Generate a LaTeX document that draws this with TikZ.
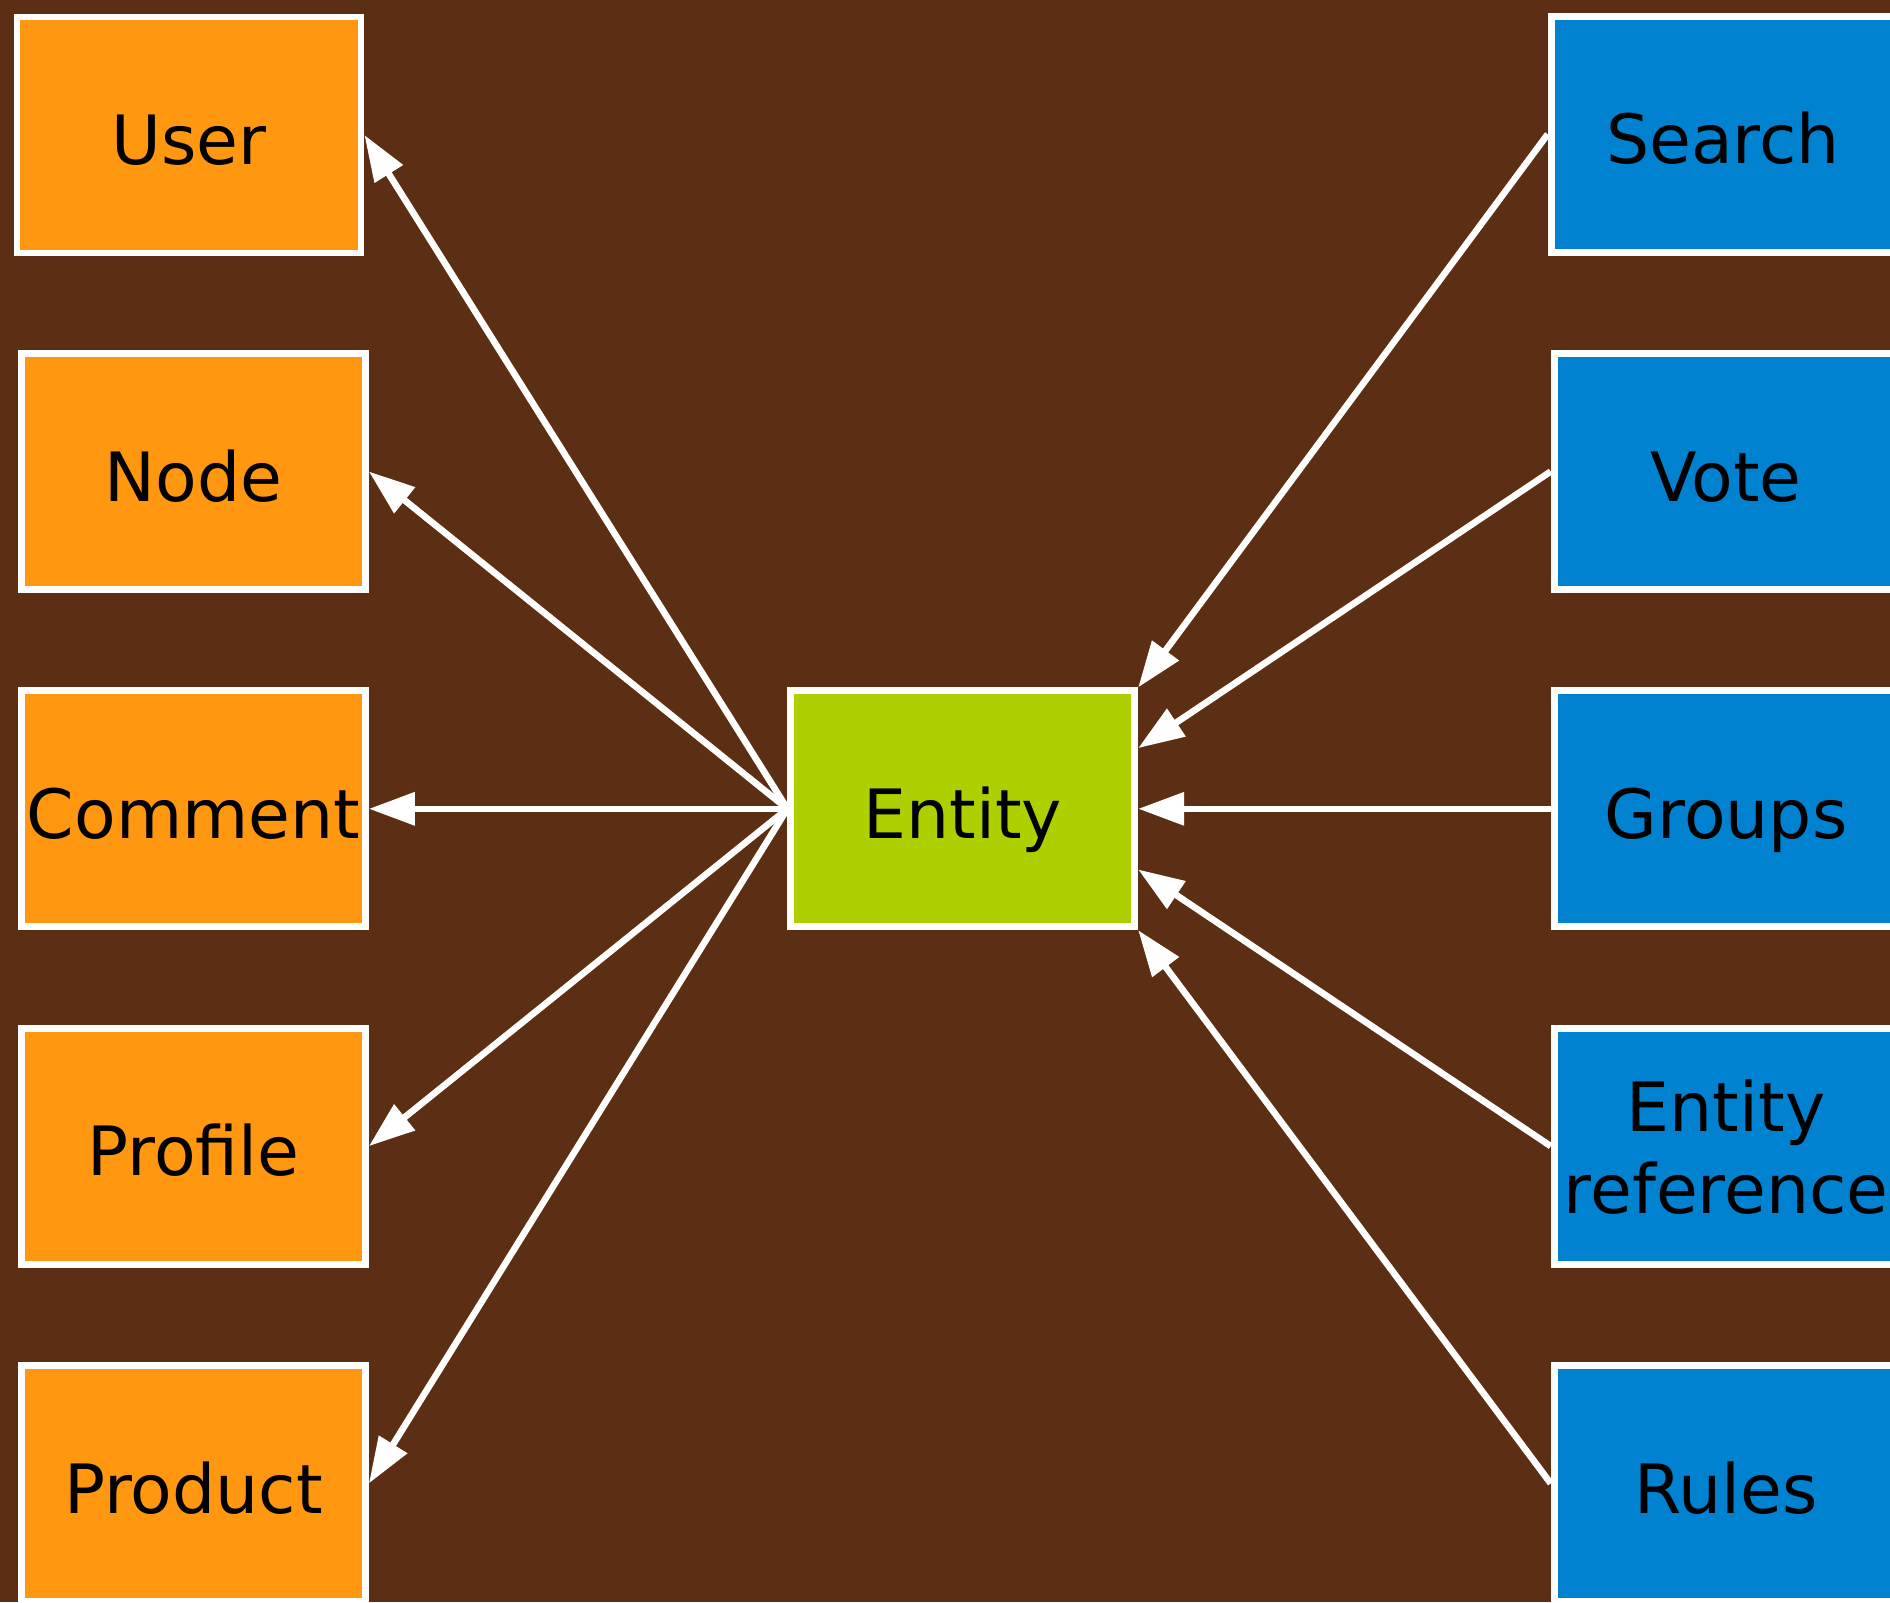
\documentclass[tikz,border=0pt]{standalone}
\usepackage{fontspec}
\setmainfont{DejaVu Sans}
\usetikzlibrary{arrows.meta,positioning,calc}
\definecolor{bgbrown}{RGB}{92,47,20}
\definecolor{orbox}{RGB}{255,151,17}
\definecolor{grbox}{RGB}{175,208,0}
\definecolor{blbox}{RGB}{0,130,208}
\tikzset{
  box/.style={draw=white, line width=3.4pt, minimum width=172pt, minimum height=118pt,
    inner sep=0pt, text=black, text height=0.95em, text depth=0.08em},
  leftbox/.style={box, fill=orbox},
  midbox/.style={box, fill=grbox},
  rightbox/.style={box, fill=blbox},
  link/.style={white, line width=3.3pt, -{Triangle[length=23pt,width=16pt]}},
}

\begin{document}
\begin{tikzpicture}
  \fill[bgbrown] (0,0) rectangle (945pt,-801pt);
  \useasboundingbox (0,0) rectangle (945pt,-801pt);
  \fontsize{34pt}{40.8pt}\selectfont
  % left column
  \node[leftbox] (user) at (94.5pt,-67.5pt) {User};
  \node[leftbox] (node) at (96.75pt,-235.75pt) {Node};
  \node[leftbox, below=47.25pt of node] (comment) {Comment};
  \node[leftbox, below=47.25pt of comment] (profile) {Profile};
  \node[leftbox, below=47.25pt of profile] (product) {Product};
  % centre
  \node[midbox, right=209.25pt of comment] (entity) {Entity};
  % right column
  \node[rightbox, right=206.25pt of entity] (groups) {Groups};
  \node[rightbox, above=47.25pt of groups] (vote) {Vote};
  \node[rightbox, above=47.25pt of vote, xshift=-1.5pt] (search) {Search};
  \node[rightbox, below=47.25pt of groups] (entref) [align=center, text height=1.97em, text depth=0pt] {Entity\\reference};
  \node[rightbox, below=47.25pt of entref] (rules) {Rules};
  % arrows out of the entity
  \path (entity.west) edge[link] (user.east);
  \path (entity.west) edge[link] (node.east);
  \path (entity.west) edge[link] (comment.east);
  \path (entity.west) edge[link] (profile.east);
  \path (entity.west) edge[link] (product.east);
  % arrows into the entity
  \path (search.west) edge[link] (entity.north east);
  \path (vote.west) edge[link] ($(entity.north east)!0.25!(entity.south east)$);
  \path (groups.west) edge[link] (entity.east);
  \path (entref.west) edge[link] ($(entity.north east)!0.75!(entity.south east)$);
  \path (rules.west) edge[link] (entity.south east);
\end{tikzpicture}
\end{document}
